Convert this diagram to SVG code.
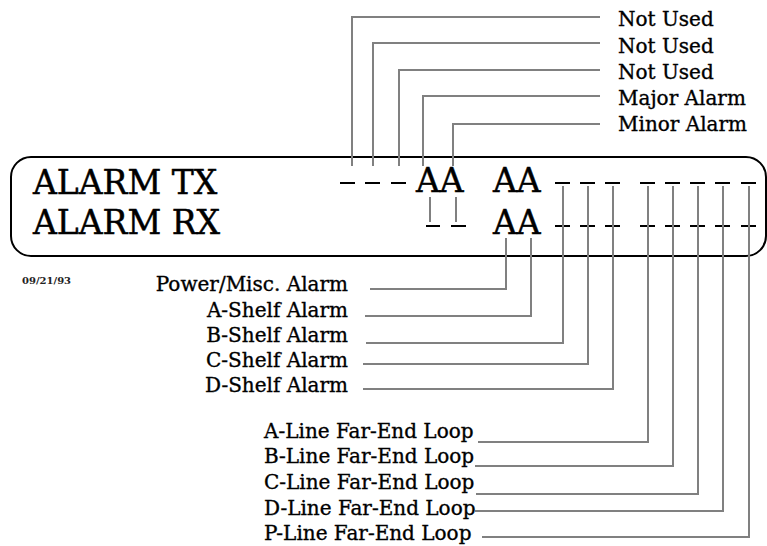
<svg xmlns="http://www.w3.org/2000/svg" width="767" height="546" viewBox="0 0 767 546">
<style>
  .lbl { font-family: "DejaVu Serif", "Liberation Serif", serif; font-size: 20px; fill: #000; stroke: #000; stroke-width: 0.35; }
  .big { font-family: "DejaVu Serif", "Liberation Serif", serif; font-size: 33px; fill: #000; stroke: #000; stroke-width: 0.5; }
  .date { font-family: "DejaVu Serif", "Liberation Serif", serif; font-size: 10px; font-weight: bold; fill: #222; }
  .conn { stroke: #808080; stroke-width: 2; fill: none; }
  .dash { stroke: #000; stroke-width: 2; }
  .frame { stroke: #000; stroke-width: 2; fill: none; }
</style>
<rect width="767" height="546" fill="#fff"/>

<g id="panel">
  <rect class="frame" x="11" y="157" width="755" height="99" rx="20" ry="20"/>
  <text class="big" x="33" y="194">ALARM TX</text>
  <text class="big" x="33" y="234">ALARM RX</text>
  <text class="big" x="416" y="192">AA</text>
  <text class="big" x="493" y="192">AA</text>
  <text class="big" x="493" y="234">AA</text>
  <g id="dashes">
    <line class="dash" x1="340" y1="183" x2="355" y2="183"/>
    <line class="dash" x1="365" y1="183" x2="380" y2="183"/>
    <line class="dash" x1="391" y1="183" x2="406" y2="183"/>
    <line class="dash" x1="426" y1="226" x2="440" y2="226"/>
    <line class="dash" x1="451" y1="226" x2="466" y2="226"/>
    <line class="dash" x1="555" y1="183" x2="570" y2="183"/>
    <line class="dash" x1="580" y1="183" x2="595" y2="183"/>
    <line class="dash" x1="605" y1="183" x2="620" y2="183"/>
    <line class="dash" x1="640" y1="183" x2="655" y2="183"/>
    <line class="dash" x1="665" y1="183" x2="680" y2="183"/>
    <line class="dash" x1="690" y1="183" x2="705" y2="183"/>
    <line class="dash" x1="715" y1="183" x2="730" y2="183"/>
    <line class="dash" x1="741" y1="183" x2="756" y2="183"/>
    <line class="dash" x1="555" y1="226" x2="570" y2="226"/>
    <line class="dash" x1="580" y1="226" x2="595" y2="226"/>
    <line class="dash" x1="605" y1="226" x2="620" y2="226"/>
    <line class="dash" x1="640" y1="226" x2="655" y2="226"/>
    <line class="dash" x1="665" y1="226" x2="680" y2="226"/>
    <line class="dash" x1="690" y1="226" x2="705" y2="226"/>
    <line class="dash" x1="715" y1="226" x2="730" y2="226"/>
    <line class="dash" x1="741" y1="226" x2="756" y2="226"/>
  </g>
</g>

<g id="date"><text class="date" x="22" y="284">09/21/93</text></g>

<g id="label-notused1"><text class="lbl" x="618" y="26">Not Used</text></g>
<g id="label-notused2"><text class="lbl" x="618" y="53">Not Used</text></g>
<g id="label-notused3"><text class="lbl" x="618" y="79">Not Used</text></g>
<g id="label-major"><text class="lbl" x="618" y="105">Major Alarm</text></g>
<g id="label-minor"><text class="lbl" x="618" y="131">Minor Alarm</text></g>

<g id="label-power"><text class="lbl" x="348" y="291" text-anchor="end">Power/Misc. Alarm</text></g>
<g id="label-ashelf"><text class="lbl" x="348" y="317" text-anchor="end">A-Shelf Alarm</text></g>
<g id="label-bshelf"><text class="lbl" x="348" y="342" text-anchor="end">B-Shelf Alarm</text></g>
<g id="label-cshelf"><text class="lbl" x="348" y="367" text-anchor="end">C-Shelf Alarm</text></g>
<g id="label-dshelf"><text class="lbl" x="348" y="392" text-anchor="end">D-Shelf Alarm</text></g>

<g id="label-aline"><text class="lbl" x="264" y="438">A-Line Far-End Loop</text></g>
<g id="label-bline"><text class="lbl" x="264" y="463">B-Line Far-End Loop</text></g>
<g id="label-cline"><text class="lbl" x="264" y="489">C-Line Far-End Loop</text></g>
<g id="label-dline"><text class="lbl" x="264" y="515">D-Line Far-End Loop</text></g>
<g id="label-pline"><text class="lbl" x="264" y="540">P-Line Far-End Loop</text></g>

<g id="connectors">
  <polyline class="conn" points="600,17 352,17 352,166"/>
  <polyline class="conn" points="600,43 373,43 373,166"/>
  <polyline class="conn" points="600,70 399,70 399,166"/>
  <polyline class="conn" points="600,96 423,96 423,166"/>
  <polyline class="conn" points="600,124 453,124 453,166"/>
  <line class="conn" x1="430" y1="197" x2="430" y2="222"/>
  <line class="conn" x1="456" y1="197" x2="456" y2="222"/>
  <polyline class="conn" points="506,238 506,289 370,289"/>
  <polyline class="conn" points="531,238 531,316 365,316"/>
  <polyline class="conn" points="563,186 563,343 366,343"/>
  <polyline class="conn" points="588,186 588,364 363,364"/>
  <polyline class="conn" points="613,186 613,389 363,389"/>
  <polyline class="conn" points="648,186 648,442 478,442"/>
  <polyline class="conn" points="673,186 673,466 475,466"/>
  <polyline class="conn" points="698,186 698,494 476,494"/>
  <polyline class="conn" points="723,186 723,511 475,511"/>
  <polyline class="conn" points="749,186 749,537 482,537"/>
</g>
</svg>
